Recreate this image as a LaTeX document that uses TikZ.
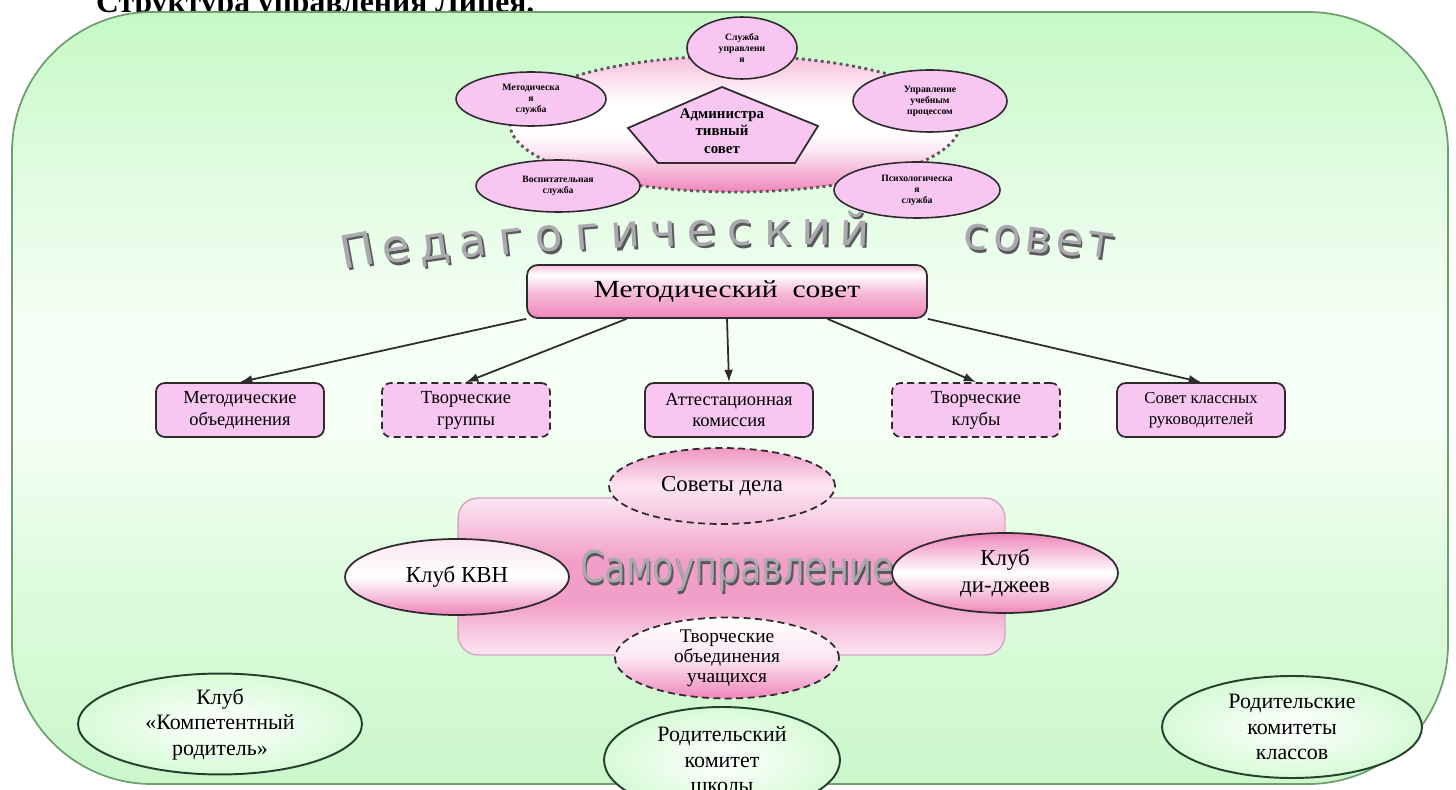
\documentclass[tikz,border=0pt]{standalone}
\usepackage{fontspec}
\usepackage{graphicx}
\setmainfont{Liberation Serif}
\newfontfamily\artfont{DejaVu Sans}
\usetikzlibrary{shapes.geometric,arrows.meta,calc}

\definecolor{fgtop}{HTML}{C6F9C6}
\definecolor{fgmid}{HTML}{DDFBDD}
\definecolor{fgwhite}{HTML}{F5FFF5}
\definecolor{fgbot}{HTML}{CBF7CB}
\definecolor{frameedge}{HTML}{6F9E6F}
\definecolor{linedark}{HTML}{2E2A2D}
\definecolor{greendark}{HTML}{24402C}
\definecolor{orchid}{HTML}{F7C6F1}
\definecolor{pkpale}{HTML}{FCE6F2}
\definecolor{pkmid}{HTML}{F6BEDA}
\definecolor{pkdeep}{HTML}{EE86BA}
\definecolor{pkedge}{HTML}{D9A2C2}
\definecolor{artgray}{HTML}{A9A9AE}

\pgfdeclareverticalshading{frameshade}{100bp}{color(0bp)=(fgbot); color(25bp)=(fgbot); color(38bp)=(fgmid); color(48bp)=(fgwhite); color(55bp)=(fgwhite); color(66bp)=(fgmid); color(75bp)=(fgtop); color(100bp)=(fgtop)}
\pgfdeclareverticalshading{metodshade}{100bp}{color(0bp)=(pkdeep); color(25bp)=(pkdeep); color(50bp)=(pkmid); color(66bp)=(white); color(75bp)=(pkmid); color(100bp)=(pkmid)}
\pgfdeclareverticalshading{ringshade}{100bp}{color(0bp)=(pkdeep); color(25bp)=(pkdeep); color(40bp)=(pkpale); color(47bp)=(white); color(58bp)=(white); color(75bp)=(pkmid); color(100bp)=(pkmid)}
\pgfdeclareverticalshading{selfshade}{100bp}{color(0bp)=(pkpale); color(25bp)=(pkpale); color(42bp)=(pkdeep!80!white); color(55bp)=(pkdeep!80!white); color(75bp)=(pkpale); color(100bp)=(pkpale)}

% word art glyphs: dark shadow behind a grey face
\newcommand\artglyph[1]{\rlap{\kern1.2pt\raisebox{-1.5pt}{\textcolor{black!65}{#1}}}#1}

\begin{document}
\begin{tikzpicture}[
  x=0.02cm, y=-0.02cm,
  svc/.style={ellipse, draw=linedark, line width=0.9pt, fill=orchid, inner sep=0pt,
    align=center, font=\fontsize{5.5}{6.3}\selectfont\bfseries},
  unit/.style={rectangle, rounded corners=5pt, draw=linedark, line width=1pt, fill=orchid,
    minimum width=3.36cm, minimum height=1.08cm, align=center,
    font=\fontsize{10.5}{12.5}\selectfont},
  unitdash/.style={unit, dash pattern=on 4pt off 2.5pt},
  club/.style={ellipse, draw=linedark, line width=1pt, inner sep=0pt, align=center,
    font=\fontsize{13}{15}\selectfont},
  clubdash/.style={club, dash pattern=on 4pt off 2.5pt},
  parent/.style={ellipse, draw=greendark, line width=1.1pt, inner color=white,
    outer color=fgtop!70!white, inner sep=0pt, align=center,
    font=\fontsize{12.5}{14.5}\selectfont},
  arr/.style={-{Latex[length=7pt,width=5pt]}, line width=1pt, draw=linedark},
  art/.style={font=\artfont\fontsize{26}{26}\selectfont, text=artgray, inner sep=0pt},
]
\useasboundingbox (0,0) rectangle (1456,790);

% title and green frame
\node[anchor=base west, font=\fontsize{18}{20}\selectfont\bfseries] (title) at (90,12.5)
  {Структура управления Лицея.};
\draw[shade, shading=frameshade, draw=frameedge, line width=1pt, rounded corners=2.8cm]
  (12,12) rectangle (1448,784);

% administration
\node[ellipse, draw=linedark!80, line width=1.6pt, dotted, shade, shading=ringshade,
  minimum width=9cm, minimum height=2.72cm] (ring) at (735,124) {};
\draw[draw=linedark, line width=1pt, fill=orchid]
  (722,87) -- (818,126) -- (795,163) -- (658,163) -- (628,128) -- cycle;
\node[align=center, font=\fontsize{8.5}{10}\selectfont\bfseries] (admin) at (722,131)
  {Администра\\тивный\\совет};
\node[svc, minimum width=2.2cm, minimum height=1.24cm] (srv) at (742,48) {Служба\\управлени\\я};
\node[svc, minimum width=3cm, minimum height=1.08cm] (met) at (531,99) {Методическа\\я\\служба};
\node[svc, minimum width=3.08cm, minimum height=1.24cm] (upr) at (930,101) {Управление\\учебным\\процессом};
\node[svc, minimum width=3.28cm, minimum height=1.04cm] (vos) at (558,186) {Воспитательная\\служба};
\node[svc, minimum width=3.32cm, minimum height=1.12cm] (psy) at (917,190) {Психологическа\\я\\служба};

% arched word art
\foreach \ch/\px [count=\i] in {П/360,е/398,д/436,а/474,г/512,о/550,г/588,и/626,ч/664,е/702,
    с/740,к/778,и/816,й/854,с/975,о/1006,в/1037,е/1068,т/1099}{
  \pgfmathsetmacro\py{245+1.2*((\px-780)/100)*((\px-780)/100)}
  \pgfmathsetmacro\ang{-1.8*atan(0.24*(\px-780)/1000)}
  \node[art, rotate=\ang, anchor=base] (ped\i) at (\px,\py) {\artglyph{\ch}};
}

% methodical council
\node[rectangle, rounded corners=6pt, draw=linedark, line width=1pt, shade, shading=metodshade,
  minimum width=8cm, minimum height=1.06cm, font=\fontsize{14}{16}\selectfont]
  (metod) at (727,291.5) {\scalebox{1.2}[1]{Методический\ \ совет}};

\node[unit] (mo) at (240,410) {Методические\\объединения};
\node[unitdash] (tg) at (466,410) {Творческие\\группы};
\node[unit] (ac) at (729,410) {Аттестационная\\комиссия};
\node[unitdash] (tk) at (976,410) {Творческие\\клубы};
\node[unit, font=\fontsize{9.5}{12}\selectfont] (sk) at (1201,410) {Совет классных\\руководителей};

\draw[arr] (metod.south west) -- (mo.north);
\draw[arr] ($(metod.south west)!0.5!(metod.south)$) -- (tg.north);
\draw[arr] (metod.south) -- (ac.north);
\draw[arr] ($(metod.south east)!0.5!(metod.south)$) -- (tk.north);
\draw[arr] (metod.south east) -- (sk.north);

% self-government
\node[rectangle, rounded corners=0.4cm, draw=pkedge, line width=0.8pt, shade, shading=selfshade,
  minimum width=10.94cm, minimum height=3.14cm] (self) at (731.5,576.5) {};
\node[art, font=\artfont\fontsize{25}{25}\selectfont] (selftext) at (737,572)
  {\scalebox{0.8}[1]{\artglyph{Самоуправление}}};

\node[clubdash, top color=pkdeep!85!white, bottom color=pkmid, middle color=pkpale,
  minimum width=4.52cm, minimum height=1.52cm] (sd) at (722,486) {Советы дела};
\node[clubdash, top color=white, bottom color=pkdeep, middle color=pkpale, minimum width=4.48cm,
  minimum height=1.6cm, font=\fontsize{11}{11.5}\selectfont] (tou) at (727,658)
  {Творческие\\объединения\\учащихся};
\node[club, top color=pkpale, bottom color=pkdeep, middle color=white,
  minimum width=4.48cm, minimum height=1.52cm] (kvn) at (457,577) {Клуб КВН};
\node[club, top color=pkdeep, bottom color=pkdeep, middle color=white,
  minimum width=4.52cm, minimum height=1.6cm] (dj) at (1005,573) {Клуб\\ди-джеев};

% parents
\node[parent, minimum width=5.68cm, minimum height=1.92cm] (pclub) at (220,724)
  {Клуб\\«Компетентный\\родитель»};
\node[parent, minimum width=4.72cm, minimum height=2.12cm] (pschool) at (722,760)
  {Родительский\\комитет\\школы};
\node[parent, minimum width=5.2cm, minimum height=2.04cm] (pclass) at (1292,727)
  {Родительские\\комитеты\\классов};
\end{tikzpicture}
\end{document}
